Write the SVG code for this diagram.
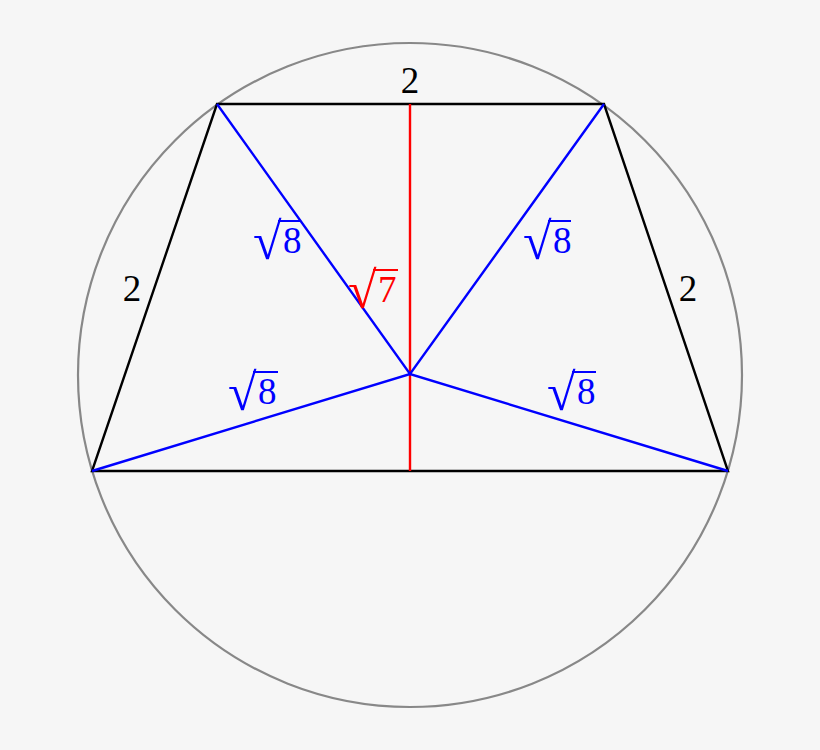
<svg xmlns="http://www.w3.org/2000/svg" width="820" height="750" viewBox="0 0 820 750">
<style>
.t{font-family:"Liberation Serif","DejaVu Serif",serif;font-size:37px}
.rad{font-family:"Liberation Serif","DejaVu Serif",serif;font-size:52px}
.k{fill:#000}.b{fill:#0000ff}.r{fill:#ff0000}
.bar{stroke-width:2}
</style>
<rect width="820" height="750" fill="#f6f6f6"/>
<g id="circle"><circle cx="410" cy="375" r="332" fill="none" stroke="#888" stroke-width="2.2"/></g>
<g id="connectors" stroke-width="2.4" fill="none">
<polygon points="217,104 604,104 728,471 92,471" stroke="#000"/>
<line x1="410" y1="104" x2="410" y2="471" stroke="#f00"/>
<path d="M217,104 L410,374 L604,104 M92,471 L410,374 L728,471" stroke="#00f" stroke-linejoin="miter"/>
</g>
<g id="labels">
<text class="t k" x="410" y="93" text-anchor="middle">2</text>
<text class="t k" x="132" y="301" text-anchor="middle">2</text>
<text class="t k" x="688" y="301" text-anchor="middle">2</text>
<g id="s1"><text class="rad b" x="253" y="259">√</text><text class="t b" x="283" y="253">8</text><line class="bar" x1="278" y1="221" x2="301" y2="221" stroke="#00f"/></g>
<g id="s2"><text class="rad b" x="523" y="259">√</text><text class="t b" x="553" y="253">8</text><line class="bar" x1="548" y1="221" x2="571" y2="221" stroke="#00f"/></g>
<g id="s3"><text class="rad b" x="228" y="410">√</text><text class="t b" x="258" y="404">8</text><line class="bar" x1="253" y1="372" x2="278" y2="372" stroke="#00f"/></g>
<g id="s4"><text class="rad b" x="547" y="410">√</text><text class="t b" x="577" y="404">8</text><line class="bar" x1="572" y1="372" x2="596" y2="372" stroke="#00f"/></g>
<g id="s5"><text class="rad r" x="348" y="308">√</text><text class="t r" x="378" y="302">7</text><line class="bar" x1="373" y1="270" x2="398" y2="270" stroke="#f00"/></g>
</g>
</svg>
